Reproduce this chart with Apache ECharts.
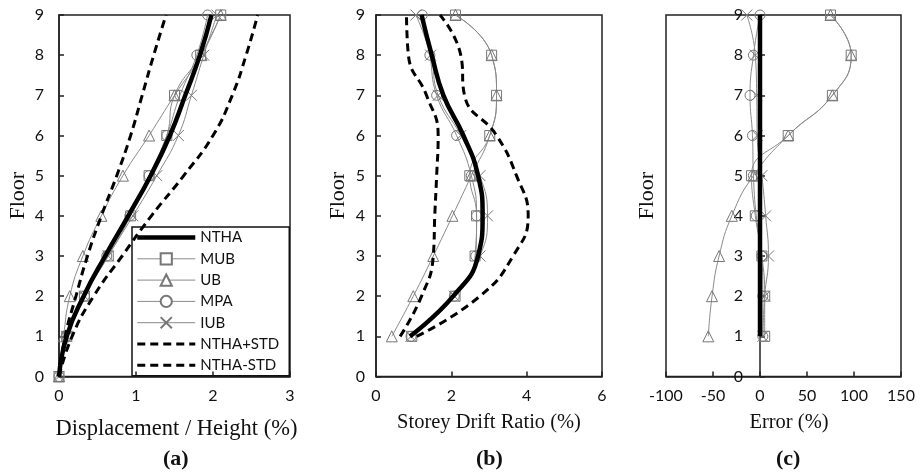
<!DOCTYPE html>
<html>
<head>
<meta charset="utf-8">
<script src="https://cdn.jsdelivr.net/npm/echarts@6/dist/echarts.min.js"></script>
<style>
html,body{margin:0;padding:0;background:#fff;}
#chart{width:921px;height:476px;}
</style>
</head>
<body>
<div id="chart"></div>
<script>
// ---------- DATA ----------
const seriesNames = ['NTHA', 'MUB', 'UB', 'MPA', 'IUB', 'NTHA+STD', 'NTHA-STD'];

// (a) Displacement / Height (%) at floors 0..9
const floorsA = [0, 1, 2, 3, 4, 5, 6, 7, 8, 9];
const dispNTHA = [0, 0.10, 0.32, 0.60, 0.90, 1.19, 1.44, 1.64, 1.83, 1.98];
const dispMUB = [0, 0.10, 0.33, 0.64, 0.93, 1.17, 1.40, 1.50, 1.84, 2.10];
const dispUB = [0, 0.06, 0.14, 0.31, 0.55, 0.83, 1.17, 1.50, 1.85, 2.10];
const dispMPA = [0, 0.10, 0.33, 0.62, 0.92, 1.17, 1.40, 1.57, 1.79, 1.93];
const dispIUB = [0, 0.10, 0.33, 0.64, 0.96, 1.27, 1.55, 1.72, 1.88, 2.05];
const dispPlus = [0, 0.17, 0.45, 0.82, 1.20, 1.62, 2.00, 2.25, 2.43, 2.58];
const dispMinus = [0, 0.08, 0.22, 0.37, 0.55, 0.75, 0.93, 1.08, 1.23, 1.39];

// (b) Storey Drift Ratio (%) at floors 1..9
const floorsB = [1, 2, 3, 4, 5, 6, 7, 8, 9];
const driftNTHA = [0.90, 2.05, 2.71, 2.83, 2.71, 2.32, 1.79, 1.48, 1.21];
const driftMUB = [0.95, 2.10, 2.63, 2.67, 2.49, 3.02, 3.20, 3.07, 2.11];
const driftUB = [0.42, 0.99, 1.52, 2.03, 2.53, 3.02, 3.20, 3.07, 2.11];
const driftMPA = [0.93, 2.08, 2.65, 2.67, 2.53, 2.14, 1.61, 1.43, 1.23];
const driftIUB = [0.93, 2.08, 2.76, 2.96, 2.76, 2.25, 1.65, 1.45, 1.06];
const driftPlus = [1.08, 2.76, 3.64, 4.04, 3.73, 3.20, 2.35, 2.25, 1.70];
const driftMinus = [0.64, 1.21, 1.52, 1.56, 1.61, 1.65, 1.34, 0.86, 0.81];

// (c) Error (%) at floors 1..9
const floorsC = [1, 2, 3, 4, 5, 6, 7, 8, 9];
const errNTHA = [0, 0, 0, 0, 0, 0, 0, 0, 0];
const errMUB = [5, 5, 2, -5, -9, 30, 77, 97, 75];
const errUB = [-55, -51, -43.5, -30, -7, 30, 77, 97, 75];
const errMPA = [3, 3, 2, -4, -7, -8, -10.6, -7, 0];
const errIUB = [3, 5, 9, 6, 2, -3, -3.5, -5, -14];

// axis settings
const xTitles = ['Displacement / Height (%)', 'Storey Drift Ratio (%)', 'Error (%)'];
const panelLabels = ['(a)', '(b)', '(c)'];
const xRanges = [[0, 3, 1], [0, 6, 2], [-100, 150, 50]];
const yRange = [0, 9, 1];

// ---------- STYLES ----------
const GRAY_LINE = '#8a8a8a';
const GRAY_MARK = '#777';
const AX = '#222';
const CLEAR = 'rgba(255,255,255,0)';
const tickFont = {fontFamily: 'Lato', fontSize: 16, color: '#111'};
const serif = 'Liberation Serif';

const styles = {
  'NTHA': {symbol: 'circle', showSymbol: false, lineStyle: {color: '#000', width: 4.5}, itemStyle: {color: CLEAR, borderWidth: 0}, z: 5},
  'MUB': {symbol: 'rect', symbolSize: 10, lineStyle: {color: GRAY_LINE, width: 1}, itemStyle: {color: CLEAR, borderColor: GRAY_MARK, borderWidth: 1}, z: 3},
  'UB': {symbol: 'triangle', symbolSize: 11, lineStyle: {color: GRAY_LINE, width: 1}, itemStyle: {color: CLEAR, borderColor: GRAY_MARK, borderWidth: 1}, z: 3},
  'MPA': {symbol: 'circle', symbolSize: 10, lineStyle: {color: GRAY_LINE, width: 1}, itemStyle: {color: CLEAR, borderColor: GRAY_MARK, borderWidth: 1}, z: 3},
  'IUB': {symbol: 'path://M0,0L10,10M10,0L0,10', symbolSize: 11, lineStyle: {color: GRAY_LINE, width: 1}, itemStyle: {color: CLEAR, borderColor: GRAY_MARK, borderWidth: 1}, z: 3},
  'NTHA+STD': {symbol: 'circle', showSymbol: false, lineStyle: {color: '#000', width: 3, type: [8, 5]}, itemStyle: {color: CLEAR, borderWidth: 0}, z: 4},
  'NTHA-STD': {symbol: 'circle', showSymbol: false, lineStyle: {color: '#000', width: 3, type: [8, 5]}, itemStyle: {color: CLEAR, borderWidth: 0}, z: 4}
};

function mk(name, xs, ys, idx) {
  const s = styles[name];
  return Object.assign({
    type: 'line', name: name, xAxisIndex: idx, yAxisIndex: idx,
    smooth: 0.5, showSymbol: true,
    data: xs.map((x, i) => [x, ys[i]]),
    animation: false
  }, s);
}

const series = [
  mk('NTHA', dispNTHA, floorsA, 0), mk('MUB', dispMUB, floorsA, 0), mk('UB', dispUB, floorsA, 0),
  mk('MPA', dispMPA, floorsA, 0), mk('IUB', dispIUB, floorsA, 0),
  mk('NTHA+STD', dispPlus, floorsA, 0), mk('NTHA-STD', dispMinus, floorsA, 0),
  mk('NTHA', driftNTHA, floorsB, 1), mk('MUB', driftMUB, floorsB, 1), mk('UB', driftUB, floorsB, 1),
  mk('MPA', driftMPA, floorsB, 1), mk('IUB', driftIUB, floorsB, 1),
  mk('NTHA+STD', driftPlus, floorsB, 1), mk('NTHA-STD', driftMinus, floorsB, 1),
  mk('NTHA', errNTHA, floorsC, 2), mk('MUB', errMUB, floorsC, 2), mk('UB', errUB, floorsC, 2),
  mk('MPA', errMPA, floorsC, 2), mk('IUB', errIUB, floorsC, 2)
];

const gridBoxes = [
  {left: 59, top: 15, width: 231, height: 361.5},
  {left: 376, top: 15, width: 226, height: 361.5},
  {left: 666, top: 15, width: 235, height: 361.5}
];
const grids = gridBoxes.map(g => Object.assign({show: true, borderColor: AX, borderWidth: 1.5, backgroundColor: 'transparent'}, g));

// the y axis sits where x = 0 (inside panel c); offset moves the whole axis incl. labels
const yOffsets = xRanges.map((r, i) => -gridBoxes[i].width * (0 - r[0]) / (r[1] - r[0]));

const xNameGaps = [41, 36, 36];
const xNameSizes = [22.5, 20.5, 20.5];
const xNamePads = [[0, 0, 0, 4], [0, 0, 0, 0], [0, 0, 0, 11]];
const yLabelMargins = [15, 11, 17];
const yNameGaps = [30, 27, 102];

const xAxes = xRanges.map((r, i) => ({
  type: 'value', gridIndex: i, min: r[0], max: r[1], interval: r[2],
  name: xTitles[i], nameLocation: 'middle', nameGap: xNameGaps[i], nameMoveOverlap: false,
  nameTextStyle: {fontFamily: serif, fontSize: xNameSizes[i], color: '#111', padding: xNamePads[i]},
  axisLine: {show: true, onZero: false, lineStyle: {color: AX, width: 1.5}},
  axisTick: {show: true, inside: true, length: 5, lineStyle: {color: AX, width: 1.5}},
  axisLabel: Object.assign({margin: 11}, tickFont),
  splitLine: {show: false}
}));

const yAxes = [0, 1, 2].map(i => ({
  type: 'value', gridIndex: i, min: yRange[0], max: yRange[1], interval: yRange[2],
  offset: yOffsets[i],
  name: 'Floor', nameLocation: 'middle', nameGap: yNameGaps[i], nameRotate: 90, nameMoveOverlap: false,
  nameTextStyle: {fontFamily: serif, fontSize: 22, color: '#111'},
  axisLine: {show: true, onZero: false, lineStyle: {color: AX, width: 1.5}},
  axisTick: {show: true, inside: true, length: 5, lineStyle: {color: AX, width: 1.5}},
  axisLabel: Object.assign({margin: yLabelMargins[i]}, tickFont),
  splitLine: {show: false}
}));

const labelX = [177, 490, 790];
const graphics = panelLabels.map((t, i) => ({
  type: 'text', left: labelX[i] - 14, top: 448,
  style: {text: t, font: 'bold 22px "Liberation Serif"', fill: '#111'}
}));

const legendData = seriesNames.map(n => {
  const s = styles[n];
  const item = {name: n, lineStyle: {width: s.lineStyle.width}};
  if (s.showSymbol !== false) item.itemStyle = {color: '#fff'};
  return item;
});

const chart = echarts.init(document.getElementById('chart'), null, {renderer: 'canvas'});
chart.setOption({
  animation: false,
  backgroundColor: '#fff',
  grid: grids,
  xAxis: xAxes,
  yAxis: yAxes,
  legend: {
    orient: 'vertical', left: 132, top: 227,
    data: legendData,
    itemWidth: 58, itemHeight: 14, itemGap: 6.3,
    padding: [3, 10, 3, 3],
    borderColor: '#111', borderWidth: 1.5,
    textStyle: {fontFamily: 'Lato', fontSize: 15, color: '#111'},
    selectedMode: false
  },
  graphic: graphics,
  series: series
});
</script>
</body>
</html>
